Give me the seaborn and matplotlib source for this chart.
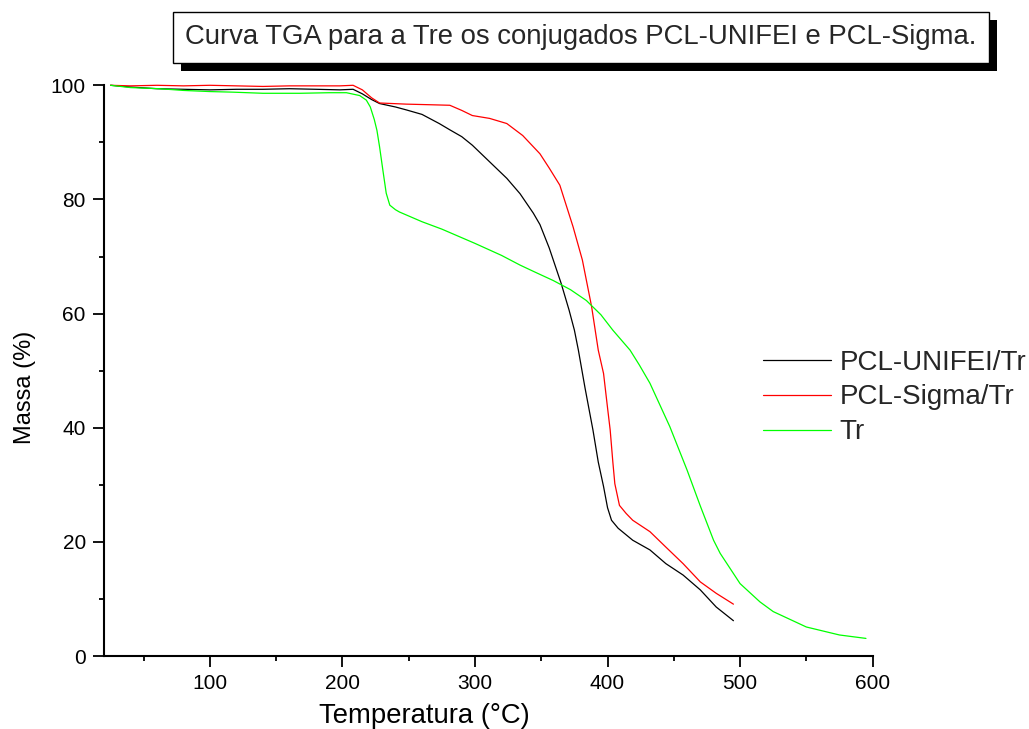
import numpy as np
import pandas as pd
import matplotlib
matplotlib.use("Agg")
import matplotlib.pyplot as plt
import matplotlib.patheffects as pe
from matplotlib.ticker import MultipleLocator
import seaborn as sns

# ---------------- data ----------------
t_unifei = [25, 40, 60, 80, 100, 120, 140, 160, 180, 198, 208, 215, 222, 228, 240, 248,
            260, 273, 281, 290, 298, 311, 324, 334, 344, 349, 356, 365, 371, 375, 378,
            383, 389, 393, 397, 400, 403, 408, 419, 432, 444, 457, 470, 482, 495]
m_unifei = [100.0, 99.7, 99.4, 99.3, 99.2, 99.3, 99.3, 99.4, 99.3, 99.2, 99.3, 98.5, 97.5,
            96.8, 96.2, 95.7, 94.9, 93.3, 92.2, 91.0, 89.5, 86.6, 83.7, 81.0, 77.6, 75.6,
            71.5, 65.3, 60.6, 57.1, 53.6, 47.0, 39.6, 34.0, 29.7, 26.0, 23.8, 22.4, 20.3,
            18.6, 16.2, 14.2, 11.6, 8.6, 6.2]

t_sigma = [25, 40, 60, 80, 100, 120, 140, 160, 180, 198, 208, 215, 222, 228, 248, 265,
           281, 290, 298, 311, 324, 336, 349, 356, 364, 374, 381, 388, 393, 397, 400,
           402, 404, 405.5, 409, 414, 419, 432, 444, 457, 470, 482, 495]
m_sigma = [100.0, 99.9, 100.0, 99.9, 100.0, 99.9, 99.8, 99.9, 99.9, 99.9, 100.0, 99.2,
           97.8, 96.9, 96.7, 96.6, 96.5, 95.6, 94.7, 94.2, 93.3, 91.2, 88.0, 85.5, 82.5,
           75.2, 69.4, 61.2, 53.6, 49.5, 43.5, 39.6, 34.0, 30.2, 26.4, 25.0, 23.8, 21.8,
           19.1, 16.2, 13.0, 11.0, 9.1]

t_tr = [25, 40, 62, 80, 100, 117, 140, 168, 190, 203, 213, 218, 221, 224, 226, 228,
        230.5, 233, 235.7, 240, 243, 260, 275, 291, 300, 320, 334, 345, 359, 372, 384,
        395, 404, 417, 424, 432, 447, 460, 470, 475, 480, 485, 500, 515, 525, 550, 575, 595]
m_tr = [100.0, 99.6, 99.4, 99.1, 98.9, 98.8, 98.6, 98.6, 98.7, 98.7, 98.2, 97.4, 96.2,
        94.0, 92.1, 89.2, 85.1, 81.1, 79.0, 78.2, 77.8, 76.1, 74.8, 73.2, 72.3, 70.2,
        68.5, 67.3, 65.8, 64.2, 62.3, 59.8, 57.1, 53.6, 51.0, 47.8, 40.2, 32.6, 26.3,
        23.3, 20.3, 18.0, 12.7, 9.5, 7.8, 5.1, 3.7, 3.1]

labels = ["PCL-UNIFEI/Tr", "PCL-Sigma/Tr", "Tr"]
colors = ["#000000", "#FF0000", "#00FF00"]
x_ticks = [100, 200, 300, 400, 500, 600]
y_ticks = [0, 20, 40, 60, 80, 100]
title = "Curva TGA para a Tre os conjugados PCL-UNIFEI e PCL-Sigma."

# ---------------- plotting ----------------
sns.set_theme(style="ticks")
plt.rcParams["font.family"] = ["Liberation Sans", "DejaVu Sans"]

fig = plt.figure(figsize=(10.29, 7.29), dpi=100)
ax = fig.add_axes([0.101, 0.100, 0.747, 0.783])

series = [(t_unifei, m_unifei), (t_sigma, m_sigma), (t_tr, m_tr)]
for (tx, my), lab, col in zip(series, labels, colors):
    sns.lineplot(x=tx, y=my, ax=ax, color=col, label=lab, sort=False,
                 linewidth=0.9, estimator=None, clip_on=False)

ax.set_xlim(20, 600)
ax.set_ylim(0, 100)
ax.set_xticks(x_ticks)
ax.set_yticks(y_ticks)
ax.xaxis.set_minor_locator(MultipleLocator(50))
ax.yaxis.set_minor_locator(MultipleLocator(10))
ax.tick_params(axis="both", which="major", direction="out", length=8, width=1.3,
               labelsize=15, color="black", labelcolor="black", pad=5)
ax.tick_params(axis="both", which="minor", direction="out", length=3.5, width=1.3,
               color="black")
for s in ["top", "right"]:
    ax.spines[s].set_visible(False)
for s in ["left", "bottom"]:
    ax.spines[s].set_linewidth(1.5)
    ax.spines[s].set_color("black")

ax.set_xlabel("Temperatura (°C)", fontsize=19.8, color="black")
ax.set_ylabel("Massa (%)", fontsize=17, color="black")
ax.xaxis.set_label_coords(0.417, -0.082)
ax.yaxis.set_label_coords(-0.088, 0.471)

leg = ax.legend(loc="upper left", bbox_to_anchor=(0.858, 0.537), frameon=False,
                fontsize=20, handlelength=2.45, handletextpad=0.28, labelspacing=0.32,
                borderaxespad=0, borderpad=0)

t = fig.text(0.5646, 0.949, title, ha="center", va="center", fontsize=19.8,
             bbox=dict(boxstyle="square,pad=0.45", facecolor="white", edgecolor="black",
                       linewidth=1.0))
t.get_bbox_patch().set_path_effects([
    pe.SimplePatchShadow(offset=(6, -6), shadow_rgbFace="black", alpha=1.0),
    pe.Normal()])

fig.savefig("out.png", dpi=100, facecolor="white")
